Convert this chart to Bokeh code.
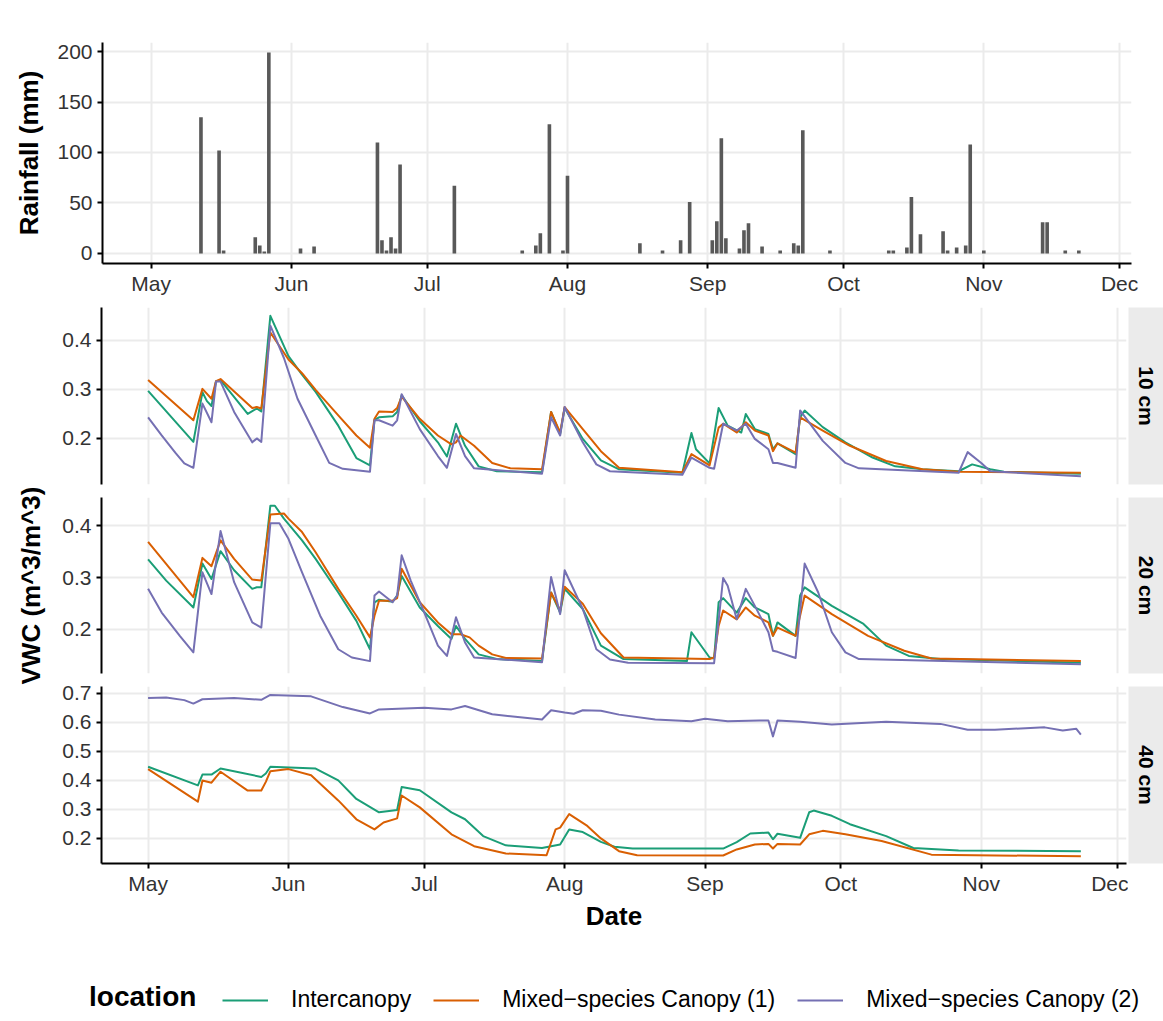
import pandas as pd
from bokeh.plotting import figure
from bokeh.layouts import column, row
from bokeh.models import (Range1d, FixedTicker, DatetimeTickFormatter, Label,
                          Legend, LegendItem, ColumnDataSource)
from bokeh.embed import file_html
from bokeh.resources import INLINE

YEAR = 2019
MONTH_TICKS = ["05-01", "06-01", "07-01", "08-01", "09-01", "10-01", "11-01", "12-01"]
LOCATIONS = ["Intercanopy", "Mixed\u2212species Canopy (1)", "Mixed\u2212species Canopy (2)"]
COLORS = ["#1B9E77", "#D95F02", "#7570B3"]
DEPTHS = ["10 cm", "20 cm", "40 cm"]

RAIN_TICKS = [0, 50, 100, 150, 200]
VWC_TICKS_10 = [0.2, 0.3, 0.4]
VWC_TICKS_20 = [0.2, 0.3, 0.4]
VWC_TICKS_40 = [0.2, 0.3, 0.4, 0.5, 0.6, 0.7]

# daily rainfall (mm)
RAIN = [("05-12", 135), ("05-16", 102), ("05-17", 3), ("05-24", 16), ("05-25", 8), ("05-26", 2),
        ("05-27", 199), ("06-03", 5), ("06-06", 7), ("06-20", 110), ("06-21", 13), ("06-22", 3),
        ("06-23", 16), ("06-24", 5), ("06-25", 88), ("07-07", 67), ("07-22", 3), ("07-25", 8),
        ("07-26", 20), ("07-28", 128), ("07-31", 3), ("08-01", 77), ("08-17", 10), ("08-22", 3),
        ("08-26", 13), ("08-28", 51), ("09-02", 13), ("09-03", 32), ("09-04", 114), ("09-05", 15),
        ("09-08", 5), ("09-09", 23), ("09-10", 30), ("09-13", 7), ("09-17", 3), ("09-20", 10),
        ("09-21", 8), ("09-22", 122), ("09-28", 3), ("10-11", 3), ("10-12", 3), ("10-15", 6),
        ("10-16", 56), ("10-18", 19), ("10-23", 22), ("10-24", 3), ("10-26", 6), ("10-28", 8),
        ("10-29", 108), ("11-01", 3), ("11-14", 31), ("11-15", 31), ("11-19", 3), ("11-22", 3)]

# VWC (m^3/m^3) – 10 cm
IC_10 = [("05-01", .297), ("05-11", .193), ("05-13", .294), ("05-14", .276), ("05-15", .266),
         ("05-16", .316), ("05-17", .319), ("05-23", .250), ("05-25", .261), ("05-26", .255),
         ("05-28", .450), ("06-01", .368), ("06-04", .330), ("06-07", .295), ("06-12", .226),
         ("06-16", .160), ("06-19", .145), ("06-20", .238), ("06-21", .243), ("06-24", .245),
         ("06-25", .254), ("06-26", .288), ("06-30", .235), ("07-04", .192), ("07-06", .163),
         ("07-08", .230), ("07-10", .185), ("07-13", .143), ("07-17", .133), ("07-27", .131),
         ("07-29", .254), ("07-31", .209), ("08-01", .262), ("08-05", .199), ("08-09", .155),
         ("08-13", .137), ("08-27", .130), ("08-29", .211), ("08-30", .178), ("09-02", .149),
         ("09-04", .262), ("09-06", .226), ("09-09", .212), ("09-10", .250), ("09-12", .219),
         ("09-15", .209), ("09-16", .178), ("09-17", .190), ("09-21", .168), ("09-22", .243),
         ("09-23", .257), ("09-27", .223), ("10-02", .192), ("10-08", .161), ("10-13", .143),
         ("10-19", .137), ("10-27", .133), ("10-30", .147), ("11-03", .137), ("11-06", .132),
         ("11-23", .128)]
C1_10 = [("05-01", .319), ("05-11", .237), ("05-13", .301), ("05-15", .281), ("05-16", .317),
         ("05-17", .321), ("05-24", .262), ("05-25", .264), ("05-26", .261), ("05-28", .416),
         ("06-01", .361), ("06-04", .333), ("06-07", .299), ("06-12", .247), ("06-16", .206),
         ("06-19", .181), ("06-20", .240), ("06-21", .255), ("06-24", .254), ("06-25", .262),
         ("06-26", .285), ("06-30", .240), ("07-04", .206), ("07-07", .188), ("07-08", .192),
         ("07-09", .206), ("07-12", .185), ("07-16", .150), ("07-20", .139), ("07-27", .137),
         ("07-29", .254), ("07-31", .212), ("08-01", .264), ("08-05", .219), ("08-09", .174),
         ("08-13", .140), ("08-27", .131), ("08-29", .168), ("09-02", .145), ("09-04", .222),
         ("09-05", .230), ("09-08", .212), ("09-10", .233), ("09-12", .216), ("09-15", .206),
         ("09-16", .174), ("09-17", .190), ("09-21", .171), ("09-22", .243), ("09-27", .216),
         ("10-03", .185), ("10-11", .154), ("10-19", .137), ("10-27", .132), ("11-23", .130)]
C2_10 = [("05-01", .243), ("05-04", .206), ("05-07", .171), ("05-09", .149), ("05-11", .140),
         ("05-13", .271), ("05-15", .233), ("05-16", .316), ("05-17", .316), ("05-20", .254),
         ("05-24", .192), ("05-25", .200), ("05-26", .193), ("05-28", .430), ("05-31", .364),
         ("06-03", .281), ("06-07", .206), ("06-10", .150), ("06-13", .138), ("06-19", .132),
         ("06-20", .237), ("06-21", .237), ("06-24", .226), ("06-25", .237), ("06-26", .290),
         ("06-30", .219), ("07-04", .164), ("07-06", .140), ("07-08", .209), ("07-10", .164),
         ("07-12", .139), ("07-27", .128), ("07-29", .243), ("07-31", .206), ("08-01", .264),
         ("08-05", .192), ("08-08", .147), ("08-11", .133), ("08-27", .126), ("08-29", .161),
         ("09-02", .140), ("09-03", .138), ("09-05", .230), ("09-08", .216), ("09-10", .230),
         ("09-12", .199), ("09-15", .178), ("09-16", .150), ("09-17", .150), ("09-21", .140),
         ("09-22", .257), ("09-27", .195), ("10-02", .150), ("10-05", .139), ("10-27", .130),
         ("10-29", .172), ("11-01", .150), ("11-03", .133), ("11-23", .123)]

# VWC – 20 cm
IC_20 = [("05-01", .335), ("05-05", .294), ("05-11", .242), ("05-13", .327), ("05-15", .297),
         ("05-17", .351), ("05-20", .314), ("05-24", .278), ("05-25", .281), ("05-26", .281),
         ("05-28", .439), ("05-29", .439), ("05-31", .414), ("06-04", .372), ("06-07", .336),
         ("06-12", .271), ("06-16", .216), ("06-19", .161), ("06-20", .252), ("06-21", .257),
         ("06-24", .253), ("06-25", .265), ("06-26", .303), ("06-30", .242), ("07-04", .206),
         ("07-07", .181), ("07-08", .206), ("07-10", .181), ("07-13", .151), ("07-17", .142),
         ("07-27", .138), ("07-29", .271), ("07-31", .232), ("08-01", .278), ("08-05", .239),
         ("08-09", .168), ("08-14", .142), ("08-28", .138), ("08-29", .194), ("09-02", .145),
         ("09-03", .143), ("09-04", .252), ("09-05", .260), ("09-08", .232), ("09-10", .260),
         ("09-12", .242), ("09-15", .229), ("09-16", .187), ("09-17", .213), ("09-21", .187),
         ("09-22", .265), ("09-23", .281), ("09-29", .245), ("10-06", .210), ("10-11", .168),
         ("10-16", .148), ("10-23", .142), ("11-23", .135)]
C1_20 = [("05-01", .369), ("05-11", .262), ("05-13", .338), ("05-15", .322), ("05-17", .372),
         ("05-20", .336), ("05-24", .296), ("05-26", .294), ("05-28", .422), ("05-31", .424),
         ("06-01", .414), ("06-04", .388), ("06-07", .349), ("06-12", .278), ("06-16", .226),
         ("06-19", .184), ("06-20", .226), ("06-21", .255), ("06-24", .255), ("06-25", .260),
         ("06-26", .317), ("06-30", .252), ("07-04", .213), ("07-07", .190), ("07-09", .190),
         ("07-11", .184), ("07-13", .168), ("07-16", .151), ("07-19", .144), ("07-27", .143),
         ("07-29", .271), ("07-31", .236), ("08-01", .282), ("08-05", .249), ("08-09", .192),
         ("08-14", .145), ("09-02", .142), ("09-03", .145), ("09-04", .206), ("09-05", .236),
         ("09-08", .219), ("09-10", .242), ("09-12", .226), ("09-15", .213), ("09-16", .187),
         ("09-17", .203), ("09-21", .187), ("09-23", .265), ("09-29", .229), ("10-07", .187),
         ("10-15", .158), ("10-21", .143), ("11-23", .138)]
C2_20 = [("05-01", .278), ("05-04", .232), ("05-08", .187), ("05-11", .155), ("05-13", .310),
         ("05-15", .268), ("05-17", .390), ("05-20", .291), ("05-24", .213), ("05-26", .203),
         ("05-28", .405), ("05-30", .405), ("06-01", .375), ("06-04", .310), ("06-08", .226),
         ("06-12", .161), ("06-15", .145), ("06-19", .138), ("06-20", .265), ("06-21", .273),
         ("06-24", .252), ("06-25", .265), ("06-26", .343), ("06-28", .294), ("07-01", .232),
         ("07-04", .168), ("07-06", .148), ("07-08", .223), ("07-10", .174), ("07-12", .145),
         ("07-27", .136), ("07-29", .301), ("07-31", .229), ("08-01", .314), ("08-05", .239),
         ("08-08", .161), ("08-11", .141), ("08-15", .135), ("09-03", .134), ("09-05", .299),
         ("09-06", .284), ("09-08", .219), ("09-10", .278), ("09-12", .245), ("09-15", .194),
         ("09-16", .158), ("09-17", .156), ("09-21", .144), ("09-23", .327), ("09-26", .271),
         ("09-29", .194), ("10-02", .155), ("10-05", .142), ("11-23", .132)]

# VWC – 40 cm
IC_40 = [("05-01", .447), ("05-12", .383), ("05-13", .420), ("05-15", .420), ("05-17", .441),
         ("05-26", .412), ("05-27", .424), ("05-28", .447), ("06-07", .441), ("06-12", .400),
         ("06-16", .336), ("06-21", .290), ("06-25", .298), ("06-26", .377), ("06-30", .366),
         ("07-07", .290), ("07-10", .266), ("07-14", .208), ("07-19", .176), ("07-27", .167),
         ("07-31", .179), ("08-02", .231), ("08-05", .222), ("08-09", .188), ("08-12", .171),
         ("08-16", .165), ("09-05", .165), ("09-08", .187), ("09-11", .217), ("09-15", .220),
         ("09-16", .197), ("09-17", .216), ("09-22", .202), ("09-24", .290), ("09-25", .296),
         ("09-29", .278), ("10-03", .249), ("10-11", .208), ("10-17", .167), ("10-27", .158),
         ("11-23", .156)]
C1_40 = [("05-01", .439), ("05-12", .327), ("05-13", .400), ("05-15", .392), ("05-17", .430),
         ("05-23", .365), ("05-26", .365), ("05-27", .395), ("05-28", .432), ("06-01", .439),
         ("06-06", .418), ("06-12", .331), ("06-16", .266), ("06-20", .231), ("06-22", .255),
         ("06-25", .269), ("06-26", .348), ("06-30", .307), ("07-07", .214), ("07-12", .173),
         ("07-19", .148), ("07-28", .142), ("07-30", .231), ("07-31", .237), ("08-02", .284),
         ("08-06", .243), ("08-09", .200), ("08-13", .156), ("08-17", .142), ("09-05", .141),
         ("09-08", .162), ("09-12", .179), ("09-15", .181), ("09-16", .165), ("09-17", .181),
         ("09-22", .179), ("09-24", .214), ("09-27", .226), ("10-02", .214), ("10-10", .191),
         ("10-21", .144), ("11-23", .138)]
C2_40 = [("05-01", .684), ("05-05", .686), ("05-09", .677), ("05-11", .665), ("05-13", .680),
         ("05-20", .684), ("05-26", .678), ("05-28", .695), ("06-06", .690), ("06-13", .653),
         ("06-19", .631), ("06-21", .645), ("07-01", .651), ("07-07", .645), ("07-10", .657),
         ("07-16", .628), ("07-27", .610), ("07-29", .642), ("08-01", .634), ("08-03", .630),
         ("08-05", .642), ("08-09", .640), ("08-13", .627), ("08-21", .610), ("08-29", .604),
         ("09-01", .613), ("09-06", .604), ("09-13", .607), ("09-15", .607), ("09-16", .552),
         ("09-17", .607), ("09-22", .602), ("09-29", .593), ("10-11", .602), ("10-23", .595),
         ("10-29", .575), ("11-04", .575), ("11-15", .583), ("11-19", .572), ("11-22", .578),
         ("11-23", .558)]

SERIES = {"10 cm": [IC_10, C1_10, C2_10],
          "20 cm": [IC_20, C1_20, C2_20],
          "40 cm": [IC_40, C1_40, C2_40]}
Y_RANGES = {"10 cm": (0.106, 0.467), "20 cm": (0.114, 0.455), "40 cm": (0.1134, 0.724)}
Y_TICKS = {"10 cm": VWC_TICKS_10, "20 cm": VWC_TICKS_20, "40 cm": VWC_TICKS_40}

FONT = "Liberation Sans"
DAY_MS = 86400000.0


def to_ms(mmdd):
    return pd.Timestamp(f"{YEAR}-{mmdd}").value / 1e6


MAY1 = to_ms("05-01")
month_ticks = [to_ms(m) for m in MONTH_TICKS]
fmt = DatetimeTickFormatter(years="%b", months="%b", days="%b", hours="%b",
                            minutes="%b", seconds="%b", milliseconds="%b",
                            microseconds="%b", minsec="%b", hourmin="%b")


def style(p, yticks):
    p.outline_line_color = None
    p.background_fill_color = "white"
    p.border_fill_color = "white"
    p.xaxis.ticker = FixedTicker(ticks=month_ticks)
    p.xaxis.formatter = fmt
    p.yaxis.ticker = FixedTicker(ticks=yticks)
    for ax in p.axis:
        ax.axis_line_color = "black"
        ax.axis_line_width = 2
        ax.major_tick_line_color = "black"
        ax.major_tick_line_width = 2
        ax.major_tick_out = 5
        ax.major_tick_in = 0
        ax.minor_tick_line_color = None
        ax.major_label_text_font = FONT
        ax.major_label_text_font_size = "21px"
        ax.major_label_text_color = "#333333"
        ax.major_label_standoff = 5
        ax.axis_label_text_font = FONT
        ax.axis_label_text_font_size = "26px"
        ax.axis_label_text_font_style = "bold"
        ax.axis_label_text_color = "black"
    p.xaxis.major_label_standoff = 3
    for g in p.grid:
        g.grid_line_color = "#EBEBEB"
        g.grid_line_width = 2
        g.minor_grid_line_color = None


def blank(p):
    p.grid.visible = False
    p.outline_line_color = None
    p.border_fill_color = "white"
    p.background_fill_color = "white"


# ---------------- rainfall panel ----------------
rain_src = ColumnDataSource(dict(date=[to_ms(d) for d, _ in RAIN], mm=[v for _, v in RAIN]))
p_rain = figure(frame_width=1029, frame_height=221, min_border_left=102, min_border_right=32,
                min_border_top=42, min_border_bottom=37, x_axis_type="datetime",
                x_range=Range1d(MAY1 - 10.76 * DAY_MS, MAY1 + 216.64 * DAY_MS),
                y_range=Range1d(-9.95, 208.95), toolbar_location=None, output_backend="svg")
p_rain.vbar(x="date", top="mm", bottom=0, width=0.8 * DAY_MS, source=rain_src,
            fill_color="#595959", line_color=None)
style(p_rain, RAIN_TICKS)
p_rain.yaxis.axis_label = "Rainfall (mm)"
p_rain.yaxis.axis_label_standoff = 10

# ---------------- VWC panels ----------------
LAB_W = 50
rows = []
borders = {"10 cm": (7, 177, 6), "20 cm": (7, 176, 7), "40 cm": (6, 177, 77)}
for depth in DEPTHS:
    top_b, fh, bot_b = borders[depth]
    p = figure(frame_width=1025, frame_height=fh, min_border_left=101 - LAB_W,
               min_border_right=2, min_border_top=top_b, min_border_bottom=bot_b,
               x_axis_type="datetime",
               x_range=Range1d(MAY1 - 10.29 * DAY_MS, MAY1 + 216.08 * DAY_MS),
               y_range=Range1d(*Y_RANGES[depth]), toolbar_location=None, output_backend="svg")
    for ser, col in zip(SERIES[depth], COLORS):
        p.line(x=[to_ms(d) for d, _ in ser], y=[v for _, v in ser], line_color=col,
               line_width=2, line_join="round")
    style(p, Y_TICKS[depth])
    if depth != "40 cm":
        p.xaxis.visible = False
    else:
        p.xaxis.axis_label = "Date"
        p.xaxis.axis_label_standoff = 3

    s = figure(frame_width=35, frame_height=fh, min_border_left=0, min_border_right=0,
               min_border_top=top_b, min_border_bottom=bot_b, x_range=Range1d(0, 1),
               y_range=Range1d(0, 1), x_axis_location=None, y_axis_location=None,
               toolbar_location=None, output_backend="svg")
    blank(s)
    s.background_fill_color = "#EBEBEB"
    s.add_layout(Label(x=0.5, y=0.5, text=depth, angle=-90, angle_units="deg",
                       text_align="center", text_baseline="middle", text_font=FONT,
                       text_font_size="21px", text_font_style="bold", text_color="black"))
    rows.append(row(p, s))

# shared y-axis title for the three VWC panels
LAB_H = sum(t + h + b for t, h, b in borders.values())
vlab = figure(frame_width=LAB_W, frame_height=LAB_H, min_border=0, x_range=Range1d(0, LAB_W),
              y_range=Range1d(0, LAB_H), x_axis_location=None, y_axis_location=None,
              toolbar_location=None, output_backend="svg")
blank(vlab)
vlab.add_layout(Label(x=30, y=LAB_H - 285, text="VWC (m^3/m^3)", angle=90, angle_units="deg",
                      text_align="center", text_baseline="middle", text_font=FONT,
                      text_font_size="26px", text_font_style="bold", text_color="black"))

# ---------------- legend ----------------
LEG_W, LEG_H = 1163, 78
leg = figure(frame_width=LEG_W, frame_height=LEG_H, min_border=0, x_range=Range1d(0, LEG_W),
             y_range=Range1d(0, LEG_H), x_axis_location=None, y_axis_location=None,
             toolbar_location=None, output_backend="svg")
blank(leg)
nan = float("nan")
r_title = leg.line(x=[nan, nan], y=[nan, nan], line_alpha=0)
title_leg = Legend(items=[LegendItem(label="location", renderers=[r_title])],
                   location=(89, 5), glyph_width=0, glyph_height=24, label_height=24,
                   label_standoff=0, padding=0, margin=0, border_line_color=None,
                   background_fill_alpha=0, label_text_font=FONT, label_text_font_size="28px",
                   label_text_font_style="bold", label_text_color="black")
leg.add_layout(title_leg)
items = []
for name, col in zip(LOCATIONS, COLORS):
    r = leg.line(x=[nan, nan], y=[nan, nan], line_color=col, line_width=2)
    items.append(LegendItem(label=name, renderers=[r]))
legend = Legend(items=items, orientation="horizontal", location=(222, 5),
                glyph_width=46, glyph_height=24, label_height=24, label_standoff=23,
                spacing=22, padding=0, margin=0, border_line_color=None,
                background_fill_alpha=0, label_text_font=FONT, label_text_font_size="23px",
                label_text_color="black")
leg.add_layout(legend)

layout = column(p_rain, row(vlab, column(*rows)), leg)
open("out.html", "w").write(file_html(layout, INLINE))
